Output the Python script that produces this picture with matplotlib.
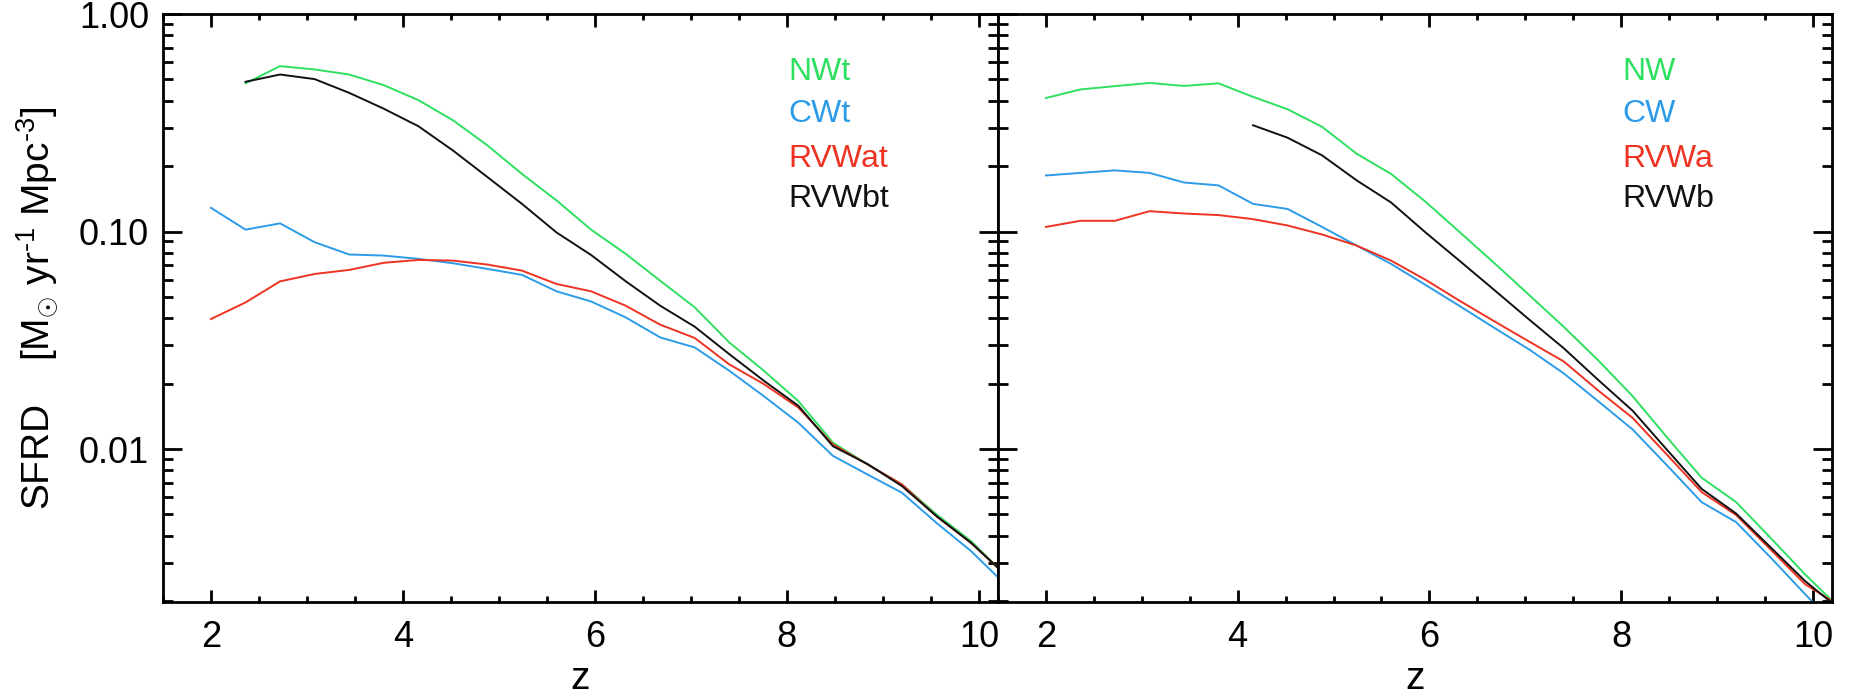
import matplotlib
matplotlib.use("Agg")
import matplotlib.pyplot as plt
from matplotlib.ticker import MultipleLocator, LogLocator, FixedLocator, NullFormatter

plt.rcParams['font.family'] = ['Liberation Sans', 'DejaVu Sans']
plt.rcParams['mathtext.fontset'] = 'custom'
plt.rcParams['mathtext.rm'] = 'Liberation Sans'
plt.rcParams['mathtext.it'] = 'Liberation Sans:italic'

# redshift grid of the outputs
z_all = [2.0, 2.36, 2.72, 3.08, 3.44, 3.80, 4.16, 4.52, 4.88, 5.24, 5.60, 5.96,
         6.32, 6.68, 7.04, 7.40, 7.76, 8.12, 8.48, 8.84, 9.20, 9.56, 9.92, 10.2]

# left panel
nwt = [0.48, 0.576, 0.556, 0.527, 0.471, 0.402, 0.325, 0.249, 0.184, 0.139, 0.102,
       0.079, 0.0594, 0.0448, 0.0309, 0.0229, 0.0166, 0.0107, 0.0085, 0.00687, 0.0050,
       0.00377, 0.00284]
cwt = [0.1285, 0.102, 0.109, 0.0893, 0.0784, 0.0775, 0.0749, 0.0715, 0.0673, 0.0632,
       0.0531, 0.0477, 0.0403, 0.0326, 0.0293, 0.0229, 0.0175, 0.0132, 0.0093, 0.00764,
       0.00629, 0.00457, 0.00339, 0.00257]
rvwat = [0.0396, 0.0472, 0.059, 0.0638, 0.0666, 0.0718, 0.074, 0.0735, 0.0705, 0.0661,
         0.0574, 0.0531, 0.0456, 0.0373, 0.0324, 0.0245, 0.0199, 0.0155, 0.0105, 0.0085,
         0.00687, 0.0049, 0.0037, 0.00284]
rvwbt = [0.488, 0.527, 0.502, 0.434, 0.367, 0.305, 0.236, 0.178, 0.134, 0.099, 0.078,
         0.0591, 0.0456, 0.0365, 0.0273, 0.0206, 0.0158, 0.0103, 0.00853, 0.00675,
         0.00491, 0.0037, 0.00284]

# right panel
nw = [0.411, 0.450, 0.466, 0.482, 0.467, 0.480, 0.416, 0.365, 0.303, 0.228, 0.184,
      0.137, 0.099, 0.0714, 0.0511, 0.0365, 0.0256, 0.0175, 0.0113, 0.00738, 0.0057,
      0.0039, 0.00265, 0.00201]
cw = [0.181, 0.186, 0.191, 0.186, 0.168, 0.163, 0.134, 0.127, 0.105, 0.0862, 0.0710,
      0.0568, 0.0453, 0.036, 0.0287, 0.0223, 0.0166, 0.0123, 0.0084, 0.0057, 0.00461,
      0.00317, 0.00215, 0.0016]
rvwa = [0.105, 0.112, 0.112, 0.124, 0.121, 0.119, 0.114, 0.1066, 0.0969, 0.0862,
        0.0735, 0.060, 0.0479, 0.0386, 0.0312, 0.0253, 0.0186, 0.0139, 0.0094, 0.00634,
        0.00497, 0.00345, 0.00239, 0.0020]
rvwb = [0.308, 0.270, 0.224, 0.172, 0.136, 0.099, 0.073, 0.0537, 0.0394, 0.0291,
        0.0208, 0.015, 0.0099, 0.00656, 0.00505, 0.00353, 0.00247, 0.00196]

GREEN = "#2ee060"
BLUE = "#2c9be8"
RED = "#ee3322"
BLACK = "#111111"

left_series = [("NWt", nwt, GREEN), ("CWt", cwt, BLUE),
               ("RVWat", rvwat, RED), ("RVWbt", rvwbt, BLACK)]
right_series = [("NW", nw, GREEN), ("CW", cw, BLUE),
                ("RVWa", rvwa, RED), ("RVWb", rvwb, BLACK)]

fig = plt.figure(figsize=(18.52, 6.97), dpi=100)
ax1 = fig.add_axes([0.0880, 0.1363, 0.4509, 0.8436])
ax2 = fig.add_axes([0.5389, 0.1363, 0.4503, 0.8436])

label_y = [0.888, 0.817, 0.740, 0.672]

for ax, series in [(ax1, left_series), (ax2, right_series)]:
    for i, (name, vals, col) in enumerate(series):
        # series that start late take the tail of the redshift grid
        zz = z_all[len(z_all) - len(vals):]
        ax.plot(zz, vals, color=col, lw=1.4)
        ax.text(0.749, label_y[i], name, color=col, fontsize=23,
                transform=ax.transAxes, va='baseline', ha='left')

    ax.set_yscale('log')
    ax.set_xlim(1.5, 10.2)
    ax.set_ylim(0.00198, 1.0)
    ax.xaxis.set_major_locator(MultipleLocator(2))
    ax.xaxis.set_minor_locator(MultipleLocator(0.5))
    ax.yaxis.set_major_locator(FixedLocator([0.01, 0.1, 1.0]))
    ax.yaxis.set_minor_locator(LogLocator(base=10, subs=range(2, 10)))
    ax.yaxis.set_minor_formatter(NullFormatter())
    ax.tick_params(axis='both', which='both', direction='in', top=True, right=True,
                   width=2.0, labelsize=26, color='black')
    ax.tick_params(axis='x', which='major', length=9, pad=13)
    ax.tick_params(axis='x', which='minor', length=4.5)
    ax.tick_params(axis='y', which='major', length=14, pad=10)
    ax.tick_params(axis='y', which='minor', length=7)
    for sp in ax.spines.values():
        sp.set_linewidth(2.0)
    ax.set_xlabel("z", fontsize=28, labelpad=4)

ax1.set_yticklabels(["0.01", "0.10", "1.00"])
ax2.tick_params(axis='y', which='both', labelleft=False)

ax1.set_ylabel(r"SFRD    [M$_{\odot}$ yr$^{\text{-1}}$ Mpc$^{\text{-3}}$]",
               fontsize=28, labelpad=14)

fig.savefig("out.png", dpi=100)
